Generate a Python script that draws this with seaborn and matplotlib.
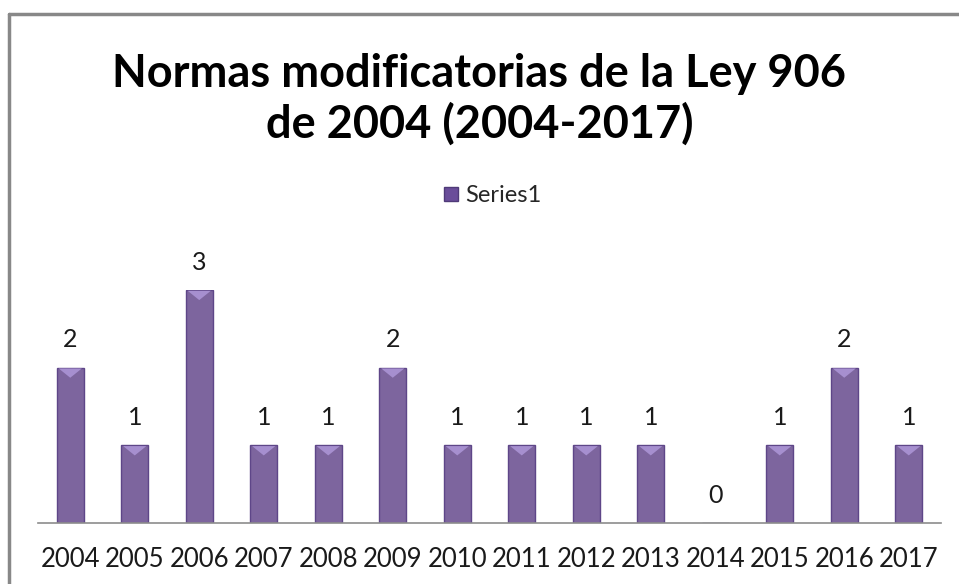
import matplotlib.pyplot as plt
import seaborn as sns
import pandas as pd
from matplotlib.lines import Line2D
from matplotlib.patches import Polygon

years = ['2004', '2005', '2006', '2007', '2008', '2009', '2010',
         '2011', '2012', '2013', '2014', '2015', '2016', '2017']
counts = [2, 1, 3, 1, 1, 2, 1, 1, 1, 1, 0, 1, 2, 1]
series_name = 'Series1'
title = 'Normas modificatorias de la Ley 906\nde 2004 (2004-2017)'

df = pd.DataFrame({'year': years, 'count': counts, 'series': series_name})

sns.set_style('white')
plt.rcParams['font.family'] = ['Lato', 'DejaVu Sans']

fig = plt.figure(figsize=(9.59, 5.84), dpi=100)
ax = fig.add_axes([38 / 959, 1 - 523 / 584, (941 - 38) / 959, (523 - 290) / 584])

sns.barplot(data=df, x='year', y='count', hue='series', palette=['#7b5ca7'],
            width=0.42, edgecolor='#5e4688', linewidth=1.0, ax=ax, legend=False)
ax.set_ylim(0, 3)
ax.set_xlim(-0.5, len(years) - 0.5)

# light bevel on top of each bar
for p in ax.patches:
    h = p.get_height()
    if h <= 0:
        continue
    x0, w = p.get_x(), p.get_width()
    tri = Polygon([[x0 + 0.03, h - 0.01], [x0 + w - 0.03, h - 0.01], [x0 + w / 2, h - 0.13]],
                  closed=True, facecolor='#a68fcf', edgecolor='none', zorder=p.get_zorder() + 0.1)
    ax.add_patch(tri)

for i, v in enumerate(counts):
    ax.text(i, v + 0.36, str(v), ha='center', va='center', fontsize=18,
            color='#1a1a1a', clip_on=False)

for s in ['top', 'right', 'left']:
    ax.spines[s].set_visible(False)
ax.spines['bottom'].set_color('#8c8c8c')
ax.spines['bottom'].set_linewidth(1.2)
ax.set_yticks([])
ax.set_xlabel('')
ax.set_ylabel('')
ax.tick_params(axis='x', length=0, labelsize=18.5, pad=17, colors='#1a1a1a')

fig.text(0.5, 1 - 99 / 584, title, ha='center', va='center', fontsize=32.5,
         fontweight='bold', linespacing=1.2, color='black')

handle = Line2D([], [], marker='s', linestyle='none', markersize=10,
                markerfacecolor='#6a4d9a', markeredgecolor='#4f3a78')
fig.legend([handle], [series_name], loc='center', bbox_to_anchor=(490 / 959, 1 - 196 / 584),
           frameon=False, fontsize=17, handletextpad=0.1, handlelength=1.0)

# chart frame
fig.add_artist(Line2D([9 / 959, 9 / 959], [0, 1 - 14 / 584], color='#888888', lw=2.5,
                      transform=fig.transFigure))
fig.add_artist(Line2D([9 / 959, 1], [1 - 14 / 584, 1 - 14 / 584], color='#888888', lw=2.5,
                      transform=fig.transFigure))

fig.savefig('out.png', dpi=100)
plt.close(fig)
